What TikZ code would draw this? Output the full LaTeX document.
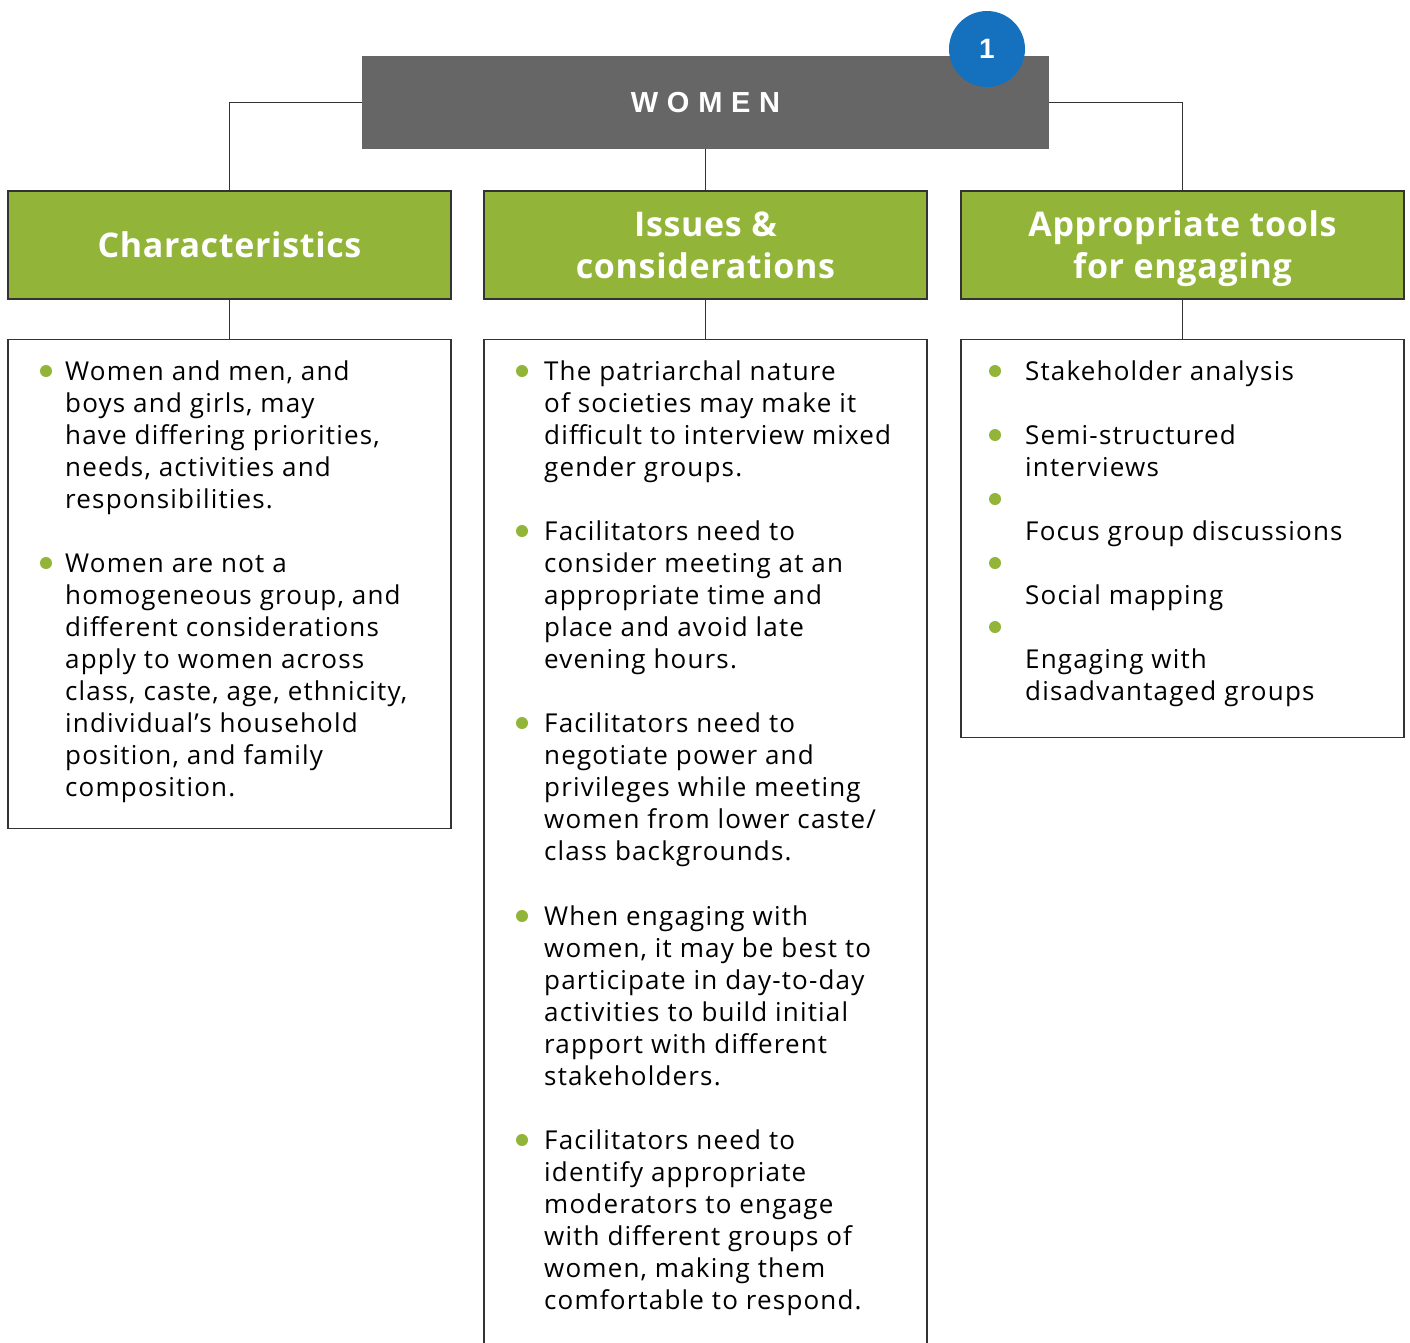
\documentclass[tikz,border=0pt]{standalone}
\usepackage{fontspec}
\setmainfont{Open Sans}[LetterSpace=4.5]
\newfontfamily\headfont{Open Sans}[LetterSpace=2]
\newfontfamily\womenfont{Liberation Sans}[LetterSpace=30]
\newfontfamily\numfont{Liberation Sans}
\usetikzlibrary{positioning}
\definecolor{WomenGray}{HTML}{666666}
\definecolor{WomenGreen}{HTML}{92B438}
\definecolor{WomenBlue}{HTML}{1571BD}
\definecolor{WomenLine}{HTML}{333333}

\begin{document}
\begin{tikzpicture}[x=1pt, y=-1pt, node distance=39pt,
  head/.style={draw=WomenLine, line width=1.2pt, fill=WomenGreen,
    minimum width=443pt, minimum height=108pt, inner sep=0pt, text depth=0pt,
    text=white, align=center, font=\headfont\fontsize{34}{42}\selectfont\bfseries},
  card/.style={draw=WomenLine, line width=1.5pt, minimum width=443pt},
  para/.style={anchor=north west, inner sep=0pt, align=left,
    font=\fontsize{26}{32}\selectfont},
  dot/.style={circle, fill=WomenGreen, inner sep=0pt, minimum size=12pt},
  link/.style={draw=WomenLine, line width=1.2pt}]
  \useasboundingbox (0,0) rectangle (1410,1342);

  % top box and its badge
  \node[fill=WomenGray, minimum width=687pt, minimum height=93pt, text=white,
    font=\womenfont\bfseries\fontsize{29}{34}\selectfont] (women) at (705.5,102.5) {WOMEN};
  \node[circle, fill=WomenBlue, minimum size=76pt, inner sep=0pt, text=white,
    font=\numfont\bfseries\fontsize{28}{30}\selectfont] (num) at (987,49) {1};

  % column heads
  \node[head] (char) at (229.5,245) {Characteristics};
  \node[head] (issue) at (705.5,245) {Issues \&\\considerations};
  \node[head] (tools) at (1182.5,245) {Appropriate tools\\for engaging};

  % column cards
  \node[card, minimum height=489pt, below=of char] (charcard) {};
  \node[card, minimum height=1030pt, below=of issue] (issuecard) {};
  \node[card, minimum height=398pt, below=of tools] (toolscard) {};

  \draw[link] (women.west) -| (char.north);
  \draw[link] (women.east) -| (tools.north);
  \draw[link] (women.south) -- (issue.north);
  \draw[link] (char) -- (charcard);
  \draw[link] (issue) -- (issuecard);
  \draw[link] (tools) -- (toolscard);

  % characteristics
  \node[dot] (cd1) at (46,371) {};
  \node[para] (c1) at (65,357.6) {\strut Women and men, and\\boys and girls, may\\have differing priorities,\\needs, activities and\\responsibilities.};
  \node[dot] (cd2) at (46,563) {};
  \node[para] (c2) at (65,549.6) {\strut Women are not a\\homogeneous group, and\\different considerations\\apply to women across\\class, caste, age, ethnicity,\\individual’s household\\position, and family\\composition.};

  % issues and considerations
  \node[dot] (id1) at (522,371) {};
  \node[para] (i1) at (544,357.6) {\strut The patriarchal nature\\of societies may make it\\difficult to interview mixed\\gender groups.};
  \node[dot] (id2) at (522,531) {};
  \node[para] (i2) at (544,517.6) {\strut Facilitators need to\\consider meeting at an\\appropriate time and\\place and avoid late\\evening hours.};
  \node[dot] (id3) at (522,723) {};
  \node[para] (i3) at (544,709.6) {\strut Facilitators need to\\negotiate power and\\privileges while meeting\\women from lower caste/\\class backgrounds.};
  \node[dot] (id4) at (522,916) {};
  \node[para] (i4) at (544,902.6) {\strut When engaging with\\women, it may be best to\\participate in day-to-day\\activities to build initial\\rapport with different\\stakeholders.};
  \node[dot] (id5) at (522,1140) {};
  \node[para] (i5) at (544,1126.6) {\strut Facilitators need to\\identify appropriate\\moderators to engage\\with different groups of\\women, making them\\comfortable to respond.};

  % tools
  \node[dot] (td1) at (995,371) {};
  \node[dot] (td2) at (995,435) {};
  \node[dot] (td3) at (995,499) {};
  \node[dot] (td4) at (995,563) {};
  \node[dot] (td5) at (995,627) {};
  \node[para] (t1) at (1025,357.6) {\strut Stakeholder analysis};
  \node[para] (t2) at (1025,421.6) {\strut Semi-structured\\interviews};
  \node[para] (t3) at (1025,517.6) {\strut Focus group discussions};
  \node[para] (t4) at (1025,581.6) {\strut Social mapping};
  \node[para] (t5) at (1025,645.6) {\strut Engaging with\\disadvantaged groups};
\end{tikzpicture}
\end{document}
